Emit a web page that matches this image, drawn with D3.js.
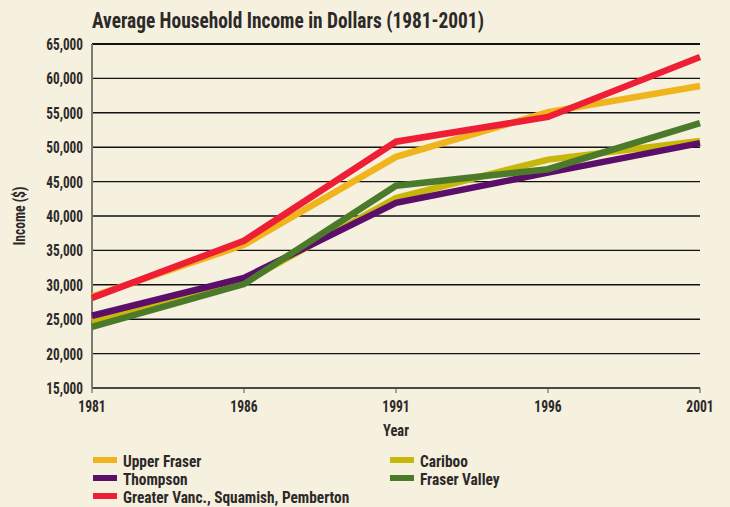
<html>
<head>
<script src="https://d3js.org/d3.v7.min.js"></script>
<style>
  body { margin: 0; background-color: #f6f0df; }
  svg { display: block; }
  text { font-family: "Liberation Sans Narrow", "Roboto Condensed", "DejaVu Sans Condensed", sans-serif; font-weight: bold; fill: #2c2a28; }
</style>
</head>
<body>
<svg id="chart" width="730" height="507"></svg>
<script>
// data
const years = [1981, 1986, 1991, 1996, 2001];
const yTicks = [15000, 20000, 25000, 30000, 35000, 40000, 45000, 50000, 55000, 60000, 65000];
const cariboo = [24600, 30400, 42600, 48200, 50900];
const upperFraser = [28300, 35800, 48600, 55100, 58900];
const thompson = [25500, 31000, 41900, 46300, 50600];
const fraserValley = [23900, 30100, 44400, 46800, 53500];
const greaterVanc = [28100, 36400, 50800, 54400, 63100];

// draw order: last one on top
const series = [
  { name: "Cariboo", values: cariboo, color: "#c6b70a" },
  { name: "Upper Fraser", values: upperFraser, color: "#f0b41c" },
  { name: "Thompson", values: thompson, color: "#5b0f6b" },
  { name: "Fraser Valley", values: fraserValley, color: "#4b7a2b" },
  { name: "Greater Vanc., Squamish, Pemberton", values: greaterVanc, color: "#ee1f35" }
];
const legendOrder = ["Upper Fraser", "Cariboo", "Thompson", "Fraser Valley", "Greater Vanc., Squamish, Pemberton"];

const svg = d3.select("#chart");
const plotL = 92, plotR = 700, plotT = 44, plotB = 388;

const x = d3.scaleLinear().domain([1981, 2001]).range([plotL, plotR]);
const y = d3.scaleLinear().domain([15000, 65000]).range([plotB, plotT]);
const fmt = d3.format(",");

// the original type is a tall condensed face, so squeeze the text a bit
const squeeze = (tx, ty, sx) => `translate(${tx},${ty}) scale(${sx},1)`;

// title
svg.append("text").attr("transform", squeeze(plotL, 28, 0.88))
  .style("font-size", "22px").text("Average Household Income in Dollars (1981-2001)");

// grid lines
svg.append("g").selectAll("line").data(yTicks).join("line")
  .attr("x1", plotL).attr("x2", plotR)
  .attr("y1", d => y(d)).attr("y2", d => y(d))
  .attr("stroke", "#111").attr("stroke-width", d => d == 65000 ? 2 : 1.4);

// y axis line
svg.append("line").attr("x1", plotL).attr("x2", plotL).attr("y1", plotT).attr("y2", plotB)
  .attr("stroke", "#7d7a72").attr("stroke-width", 2);

// x ticks
svg.append("g").selectAll("line").data(years).join("line")
  .attr("x1", d => x(d)).attr("x2", d => x(d))
  .attr("y1", plotB).attr("y2", plotB + 5)
  .attr("stroke", "#555").attr("stroke-width", 1);

// y tick labels
svg.append("g").selectAll("text").data(yTicks).join("text")
  .attr("transform", d => squeeze(plotL - 9, y(d) + 6, 0.78))
  .attr("text-anchor", "end").style("font-size", "17px")
  .text(d => fmt(d));

// x tick labels
svg.append("g").selectAll("text").data(years).join("text")
  .attr("transform", d => squeeze(x(d), plotB + 24, 0.8))
  .attr("text-anchor", "middle").style("font-size", "17px")
  .text(d => d);

// axis titles
svg.append("text").attr("transform", squeeze(x(1991), 436, 0.85))
  .attr("text-anchor", "middle").style("font-size", "17px").text("Year");
svg.append("text").attr("transform", `translate(25,${(plotT + plotB) / 2}) rotate(-90) scale(0.85,1)`)
  .attr("text-anchor", "middle").style("font-size", "16px").text("Income ($)");

// lines
const line = d3.line().x((d, i) => x(years[i])).y(d => y(d));
svg.append("g").selectAll("path").data(series).join("path")
  .attr("d", d => line(d.values))
  .attr("fill", "none")
  .attr("stroke", d => d.color)
  .attr("stroke-width", 6.5)
  .attr("stroke-linejoin", "miter");

// legend
const legPos = [[93, 460], [390, 460], [93, 478], [390, 478], [93, 496]];
const leg = svg.append("g").selectAll("g").data(legendOrder).join("g")
  .attr("transform", (d, i) => `translate(${legPos[i][0]},${legPos[i][1]})`);
leg.append("rect").attr("x", 0).attr("y", -3).attr("width", 24).attr("height", 6)
  .attr("fill", d => series.find(s => s.name == d).color);
leg.append("text").attr("transform", squeeze(30, 6.5, 0.93)).style("font-size", "16.5px").text(d => d);
</script>
</body>
</html>
